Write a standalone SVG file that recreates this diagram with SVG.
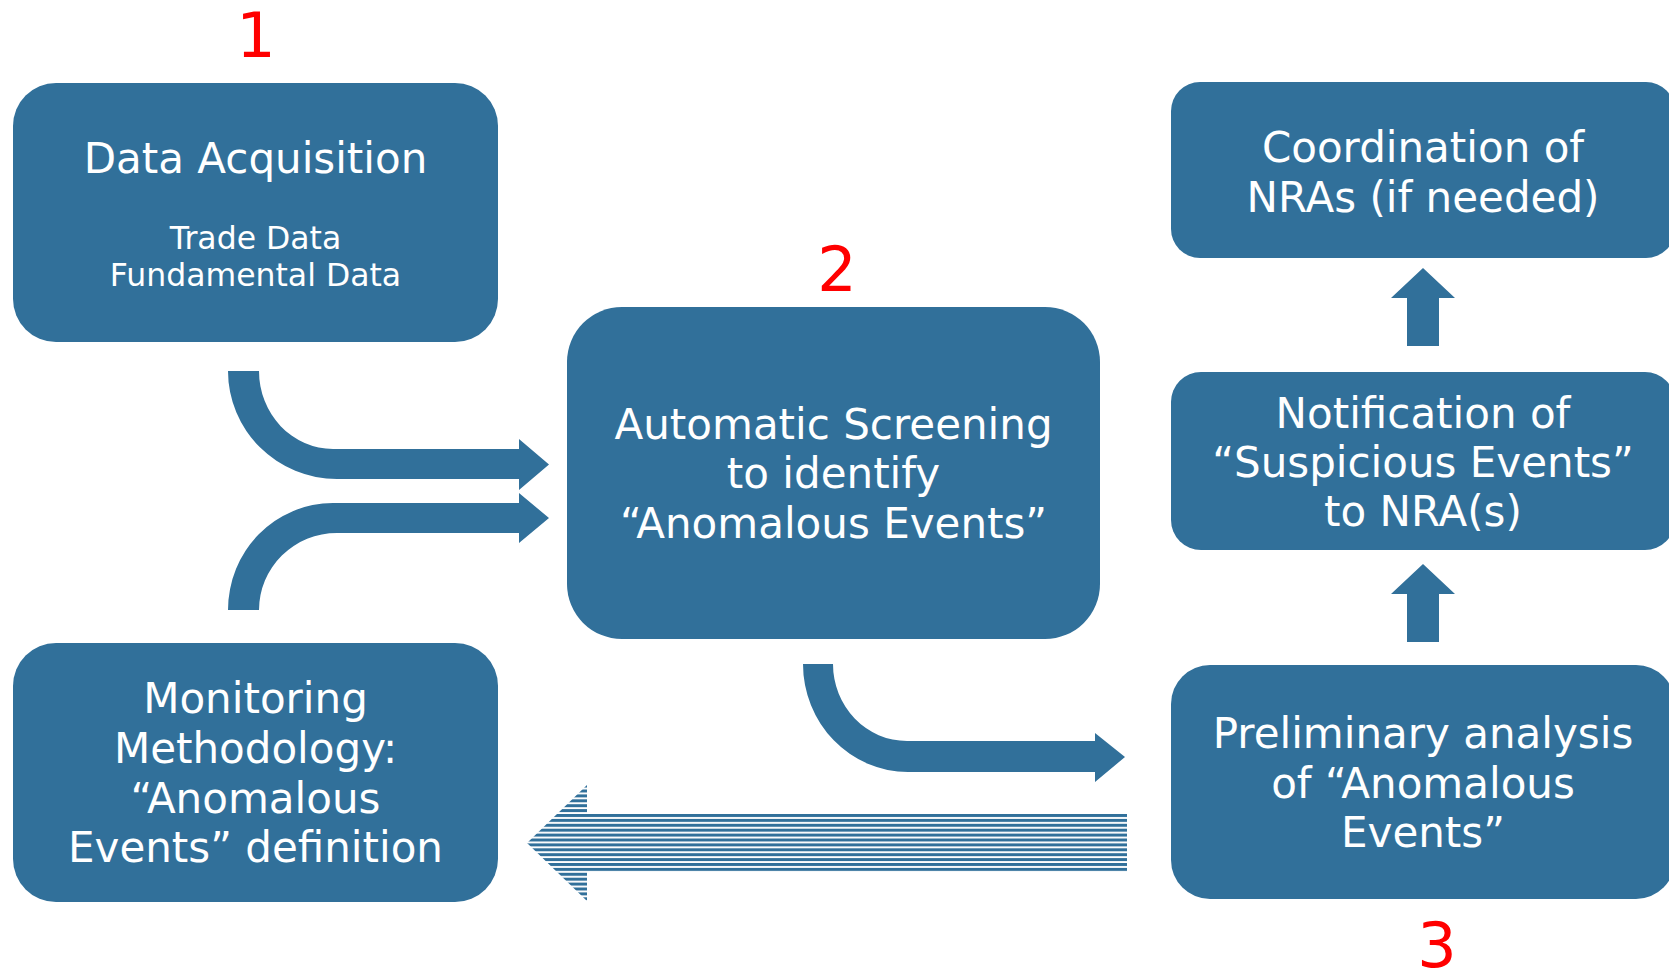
<svg xmlns="http://www.w3.org/2000/svg" width="1669" height="975" viewBox="0 0 1669 975">
<style>
.box{fill:#31709a}
.t{font-family:"DejaVu Sans","Verdana",sans-serif;fill:#ffffff;text-anchor:middle;font-size:42px}
.s{font-size:31.5px}
.num{font-family:"DejaVu Sans","Verdana",sans-serif;fill:#ff0000;text-anchor:middle;font-size:62px}
.arr{fill:#31709a}
</style>
<defs>
<pattern id="stripes" patternUnits="userSpaceOnUse" x="0" y="814" width="20" height="4.9">
<rect x="0" y="0" width="20" height="3" fill="#31709a"/>
</pattern>
</defs>
<rect width="1669" height="975" fill="#ffffff"/>
<g id="labels">
<text class="num" x="256" y="57">1</text>
<text class="num" x="837" y="291">2</text>
<text class="num" x="1437" y="967">3</text>
</g>
<g id="data-acquisition">
<rect class="box" x="13" y="83" width="485" height="259" rx="43" ry="43"/>
<text class="t" x="255.5" y="173">Data Acquisition</text>
<text class="t s" x="255.5" y="249">Trade Data</text>
<text class="t s" x="255.5" y="286">Fundamental Data</text>
</g>
<g id="automatic-screening">
<rect class="box" x="567" y="307" width="533" height="332" rx="55" ry="55"/>
<text class="t" x="833.5" y="439">Automatic Screening</text>
<text class="t" x="833.5" y="488">to identify</text>
<text class="t" x="833.5" y="538">“Anomalous Events”</text>
</g>
<g id="monitoring-methodology">
<rect class="box" x="13" y="643" width="485" height="259" rx="43" ry="43"/>
<text class="t" x="255.5" y="713">Monitoring</text>
<text class="t" x="255.5" y="763">Methodology:</text>
<text class="t" x="255.5" y="813">“Anomalous</text>
<text class="t" x="255.5" y="862">Events” definition</text>
</g>
<g id="coordination">
<rect class="box" x="1171" y="82" width="504" height="176" rx="29" ry="29"/>
<text class="t" x="1423" y="162">Coordination of</text>
<text class="t" x="1423" y="212">NRAs (if needed)</text>
</g>
<g id="notification">
<rect class="box" x="1171" y="372" width="504" height="178" rx="30" ry="30"/>
<text class="t" x="1423" y="428">Notification of</text>
<text class="t" x="1423" y="477">“Suspicious Events”</text>
<text class="t" x="1423" y="526">to NRA(s)</text>
</g>
<g id="preliminary-analysis">
<rect class="box" x="1171" y="665" width="504" height="234" rx="39" ry="39"/>
<text class="t" x="1423" y="748">Preliminary analysis</text>
<text class="t" x="1423" y="798">of “Anomalous</text>
<text class="t" x="1423" y="847">Events”</text>
</g>
<g id="connectors">
<path class="arr" d="M228,371 H259 A74,78 0 0 0 333,449 H519 V439 L549,464.5 L519,490 V479 H337 A109,108 0 0 1 228,371 Z"/>
<path class="arr" d="M228,610 A105,107 0 0 1 333,503 H519 V493 L549,518 L519,543 V533 H337 A78,77 0 0 0 259,610 Z"/>
<path class="arr" d="M803,664 H833 A74,77 0 0 0 907,741 H1095 V733 L1125,757 L1095,782 V772 H908 A105,108 0 0 1 803,664 Z"/>
<path class="arr" d="M1423,268 L1455,298 H1439 V346 H1407 V298 H1391 Z"/>
<path class="arr" d="M1423,564 L1455,594 H1439 V642 H1407 V594 H1391 Z"/>
<path fill="url(#stripes)" d="M527,843 L587,785 V814 H1127 V872 H587 V901 Z"/>
</g>
</svg>
